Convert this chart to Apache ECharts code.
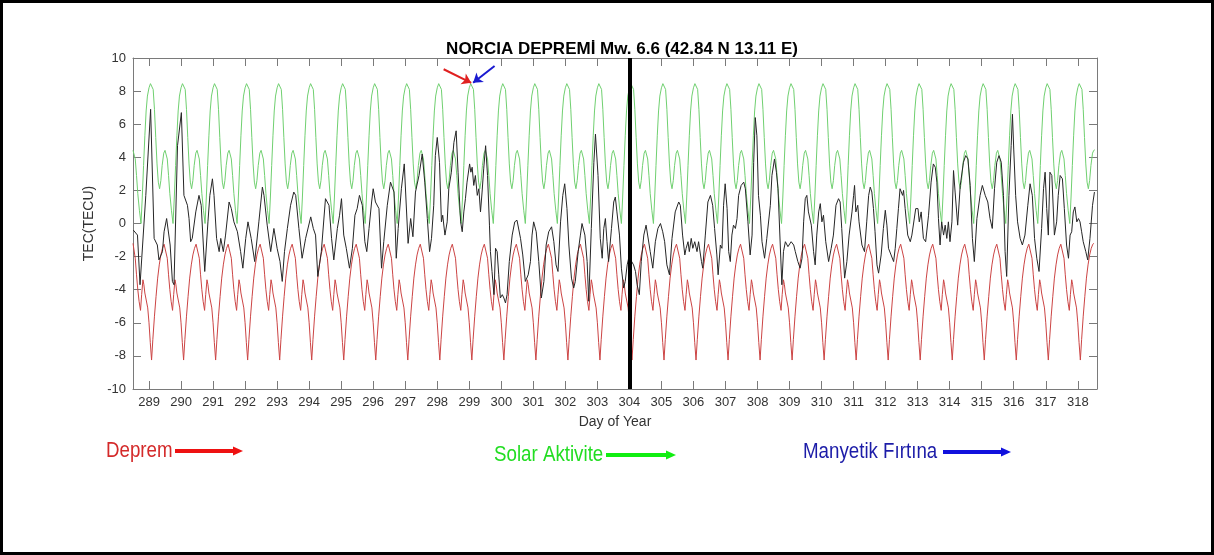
<!DOCTYPE html>
<html>
<head>
<meta charset="utf-8">
<title>NORCIA DEPREMİ Mw. 6.6</title>
<script src="https://cdn.jsdelivr.net/npm/echarts@6/dist/echarts.min.js"></script>
<style>
  html, body { margin: 0; padding: 0; background: #fff; }
  #chart { width: 1214px; height: 555px; }
</style>
</head>
<body>
<div id="chart"></div>
<script>
// Day-of-year ticks along the horizontal axis
const dayTicks = [289, 290, 291, 292, 293, 294, 295, 296, 297, 298, 299, 300, 301, 302, 303,
                  304, 305, 306, 307, 308, 309, 310, 311, 312, 313, 314, 315, 316, 317, 318];
const firstDay = 288;
const lastDay = 318;

// Upper bound (green): one day's shape [fraction of day, TECU]; the bound repeats every day
const upperDailyProfile = [
  [0.00, 8.2], [0.045, 8.45], [0.09, 8.5], [0.13, 8.1], [0.17, 6.9], [0.21, 5.2],
  [0.25, 3.6], [0.29, 2.5], [0.33, 2.1], [0.37, 2.6], [0.41, 3.5], [0.46, 4.25],
  [0.50, 4.42], [0.53, 4.45], [0.57, 3.9], [0.61, 2.9], [0.65, 1.8], [0.70, 0.8],
  [0.75, 0.0], [0.79, 1.6], [0.83, 3.5], [0.87, 5.3], [0.91, 6.8], [0.95, 7.7]
];

// Lower bound (red): one day's shape [fraction of day, TECU]
const lowerDailyProfile = [
  [0.00, -6.0], [0.04, -7.2], [0.08, -8.25], [0.12, -7.0], [0.17, -5.6], [0.22, -4.4],
  [0.27, -3.3], [0.32, -2.5], [0.37, -1.9], [0.42, -1.5], [0.47, -1.25], [0.50, -1.2],
  [0.53, -1.3], [0.57, -2.1], [0.61, -3.1], [0.65, -4.0], [0.69, -4.7], [0.735, -5.25],
  [0.77, -4.3], [0.81, -3.4], [0.84, -3.7], [0.87, -4.2], [0.89, -4.15], [0.92, -4.3],
  [0.96, -5.1]
];

// Observed TEC variation [day of year, TECU]
const tecObserved = [
  [288.51,-0.4],[288.64,-0.7],[288.72,-3.7],[288.90,1.7],[289.05,6.9],[289.16,-0.9],[289.26,-1.3],
  [289.31,-2.2],[289.42,-1.7],[289.47,-0.5],[289.55,0.3],[289.66,-1.3],[289.73,-3.5],[289.78,-3.7],
  [289.89,4.7],[290.01,6.7],[290.09,1.7],[290.20,1.1],[290.25,0.3],[290.30,-1.1],[290.35,-0.9],
  [290.46,0.7],[290.56,1.7],[290.63,1.1],[290.74,-2.9],[290.84,0.1],[290.90,1.7],[290.98,2.7],
  [291.03,1.7],[291.11,-0.9],[291.19,-1.7],[291.24,-0.9],[291.32,-1.7],[291.39,-0.7],[291.50,1.3],
  [291.57,0.9],[291.65,0.1],[291.76,-0.5],[291.86,-1.7],[291.93,-2.7],[292.02,-0.9],[292.09,0.1],
  [292.19,-0.9],[292.30,-2.3],[292.43,0.1],[292.54,2.2],[292.59,1.7],[292.69,-0.1],[292.80,-1.7],
  [292.90,-0.3],[293.00,-1.5],[293.09,-2.3],[293.16,-3.5],[293.23,-1.7],[293.32,-0.3],[293.42,1.1],
  [293.52,1.9],[293.58,1.7],[293.68,-0.3],[293.78,-2.1],[293.89,-0.9],[294.05,0.4],[294.13,-0.3],
  [294.20,-0.7],[294.27,-3.2],[294.38,-1.7],[294.51,1.5],[294.62,1.1],[294.70,-0.9],[294.77,-2.2],
  [294.88,-0.3],[294.95,0.5],[295.01,1.5],[295.08,-0.7],[295.16,-1.5],[295.26,-2.7],[295.35,-1.5],
  [295.43,0.5],[295.50,0.9],[295.57,1.7],[295.66,1.1],[295.74,-1.1],[295.80,-1.7],[295.87,-0.3],
  [295.95,1.3],[296.00,2.1],[296.07,1.3],[296.12,1.4],[296.18,0.9],[296.26,-2.7],[296.33,-1.1],
  [296.44,1.1],[296.54,2.5],[296.65,1.9],[296.72,-2.1],[296.78,-0.3],[296.88,2.1],[296.97,3.6],
  [297.01,3.5],[297.09,-1.2],[297.17,0.3],[297.24,-0.8],[297.32,1.9],[297.43,2.9],[297.53,4.2],
  [297.61,2.5],[297.69,0.3],[297.76,-1.7],[297.82,-0.9],[297.89,1.1],[297.94,4.1],[298.00,5.2],
  [298.07,3.7],[298.13,0.1],[298.17,0.5],[298.24,-0.7],[298.31,0.1],[298.36,2.1],[298.44,3.1],
  [298.52,4.9],[298.59,5.6],[298.65,3.1],[298.73,0.1],[298.78,-0.5],[298.83,0.7],[298.88,1.5],
  [298.93,2.5],[299.01,3.6],[299.05,3.1],[299.09,3.4],[299.14,2.3],[299.19,2.9],[299.25,1.7],
  [299.30,2.1],[299.35,0.7],[299.40,1.9],[299.45,3.3],[299.51,4.7],[299.57,2.9],[299.63,-0.1],
  [299.66,-1.7],[299.71,-2.9],[299.77,-4.3],[299.82,-1.5],[299.87,-1.7],[299.92,-3.1],[299.97,-4.5],
  [300.03,-4.3],[300.08,-4.5],[300.13,-4.8],[300.18,-4.3],[300.25,-2.3],[300.34,-0.7],[300.42,0.1],
  [300.49,0.2],[300.53,0.1],[300.60,-0.9],[300.67,-1.9],[300.75,-3.5],[300.84,-3.1],[300.91,-2.3],
  [300.96,-0.7],[301.01,0.1],[301.09,-0.5],[301.17,-2.3],[301.25,-4.5],[301.33,-3.5],[301.40,-1.3],
  [301.48,-0.5],[301.57,-0.2],[301.64,-1.1],[301.71,-2.5],[301.77,-2.9],[301.85,0.1],[301.92,1.7],
  [301.98,2.4],[302.05,0.9],[302.11,-1.3],[302.19,-3.3],[302.26,-3.9],[302.31,-3.5],[302.40,-1.7],
  [302.47,-0.7],[302.52,0.0],[302.61,-0.7],[302.68,-2.3],[302.73,-4.7],[302.81,-0.3],[302.89,3.7],
  [302.94,5.4],[303.02,2.9],[303.09,-0.9],[303.15,-2.1],[303.20,-0.3],[303.25,0.3],[303.30,-1.1],
  [303.35,-2.3],[303.44,-0.3],[303.51,1.3],[303.56,1.6],[303.61,0.7],[303.69,-0.7],[303.75,-2.7],
  [303.82,-3.9],[303.87,-3.5],[303.93,-2.5],[304.00,-1.9],[304.07,-2.3],[304.13,-2.5],[304.19,-2.9],
  [304.24,-3.7],[304.31,-4.3],[304.37,-2.3],[304.45,-0.7],[304.52,-0.1],[304.58,-0.2],[304.65,-1.7],
  [304.73,-2.7],[304.81,-1.1],[304.89,-0.3],[304.97,0.0],[305.04,-0.5],[305.10,-1.1],[305.17,-2.5],
  [305.25,-3.1],[305.33,-0.9],[305.43,0.7],[305.54,1.3],[305.59,1.1],[305.66,-0.7],[305.73,-1.9],
  [305.77,-1.5],[305.83,-1.1],[305.87,-1.7],[305.93,-0.9],[305.98,-1.5],[306.04,-1.1],[306.11,-1.7],
  [306.16,-1.1],[306.25,-2.3],[306.29,-2.7],[306.37,-0.7],[306.45,1.3],[306.53,1.7],[306.60,1.1],
  [306.66,-0.3],[306.73,-1.9],[306.77,-3.1],[306.84,-1.3],[306.89,-1.5],[306.94,1.1],[306.99,2.4],
  [307.05,0.9],[307.10,-1.7],[307.15,-2.3],[307.20,-0.7],[307.25,-0.1],[307.31,-0.3],[307.36,0.3],
  [307.41,1.7],[307.49,2.3],[307.57,2.5],[307.62,2.1],[307.70,0.1],[307.77,-1.9],[307.83,-0.7],
  [307.88,3.7],[307.93,6.4],[307.98,5.3],[308.03,1.7],[308.09,0.5],[308.14,-1.1],[308.22,-2.1],
  [308.29,-0.9],[308.40,1.1],[308.45,2.9],[308.53,3.9],[308.59,3.1],[308.64,2.1],[308.71,-1.3],
  [308.76,-3.7],[308.81,-1.7],[308.87,-1.1],[308.95,-1.4],[309.05,-1.1],[309.13,-1.3],[309.18,-1.7],
  [309.26,-2.3],[309.33,-2.7],[309.39,-2.1],[309.44,0.1],[309.49,1.5],[309.54,1.7],[309.59,0.7],
  [309.68,-0.1],[309.75,-1.7],[309.80,-2.5],[309.85,-0.7],[309.91,0.7],[309.96,1.2],[310.01,0.1],
  [310.06,0.5],[310.13,-1.1],[310.22,-2.3],[310.30,-1.5],[310.37,-0.7],[310.45,1.1],[310.53,1.5],
  [310.58,1.3],[310.63,-0.3],[310.72,-3.3],[310.79,-2.3],[310.86,-0.7],[310.95,0.7],[311.00,1.7],
  [311.03,2.3],[311.07,0.7],[311.13,1.1],[311.17,0.1],[311.26,-1.3],[311.34,-1.7],[311.41,0.1],
  [311.47,1.7],[311.52,2.2],[311.57,1.9],[311.62,0.9],[311.67,-0.5],[311.73,-2.5],[311.78,-3.0],
  [311.86,-1.9],[311.93,-0.3],[311.99,0.8],[312.04,-0.1],[312.09,-1.5],[312.17,-1.9],[312.25,-2.3],
  [312.30,-1.5],[312.35,-0.3],[312.40,0.9],[312.45,2.1],[312.53,1.7],[312.56,2.0],[312.61,0.9],
  [312.69,-0.7],[312.77,-1.1],[312.82,-0.7],[312.87,-0.7],[312.94,0.9],[313.01,0.9],[313.05,0.1],
  [313.11,0.7],[313.18,-0.9],[313.25,-1.1],[313.34,0.5],[313.42,2.5],[313.49,3.6],[313.55,3.4],
  [313.60,2.5],[313.65,0.3],[313.70,-1.3],[313.75,0.1],[313.81,-0.7],[313.86,-0.1],[313.91,-0.9],
  [313.96,0.1],[314.01,-1.1],[314.07,0.1],[314.12,3.2],[314.17,1.9],[314.25,-0.1],[314.33,2.3],
  [314.43,3.7],[314.50,4.1],[314.57,3.9],[314.64,2.3],[314.71,-0.9],[314.77,-2.3],[314.85,0.3],
  [314.95,1.7],[315.02,2.3],[315.11,1.7],[315.19,1.3],[315.26,0.3],[315.33,-0.3],[315.40,2.1],
  [315.47,3.7],[315.54,4.1],[315.61,3.7],[315.68,1.7],[315.73,-1.7],[315.78,-3.2],[315.85,1.7],
  [315.92,4.7],[315.96,6.6],[316.00,4.5],[316.06,1.7],[316.12,0.1],[316.20,-0.9],[316.27,-1.3],
  [316.35,-0.7],[316.44,1.1],[316.51,2.4],[316.58,1.7],[316.65,-0.9],[316.72,-2.1],[316.79,-2.9],
  [316.87,-0.3],[316.93,2.1],[316.98,3.1],[317.03,0.9],[317.08,-0.7],[317.13,3.1],[317.19,2.9],
  [317.27,-0.7],[317.34,0.1],[317.39,1.7],[317.45,2.9],[317.52,2.7],[317.58,0.9],[317.65,-1.3],
  [317.71,-2.1],[317.76,-0.7],[317.81,-0.5],[317.86,0.7],[317.91,1.0],[317.97,0.1],[318.02,0.3],
  [318.07,0.1],[318.12,-0.5],[318.17,-1.1],[318.25,-1.7],[318.31,-2.2],[318.38,-0.9],[318.46,1.1],
  [318.52,1.9]
];

// Event markers pointing at day 299: [tail, head] as [day, TECU]
const quakeArrow = [[298.2, 9.32], [299.06, 8.5]];
const stormArrow = [[299.79, 9.52], [299.12, 8.5]];
const eventDay = 304;

// Lay a daily profile out over every day of the plotted window
function spreadOverDays(profile, from, to) {
  const out = [];
  for (let d = firstDay; d <= lastDay; d++) {
    for (const [f, v] of profile) {
      const x = +(d + f).toFixed(3);
      if (x >= from - 1e-9 && x <= to + 1e-9) out.push([x, v]);
    }
  }
  return out;
}
const upperBound = spreadOverDays(upperDailyProfile, 288.5, 318.55);
const lowerBound = spreadOverDays(lowerDailyProfile, 288.5, 318.5);

const axisGray = '#7a7a7a';
const labelColor = '#333333';
const fontFamily = '"Liberation Sans", Arial, sans-serif';
const xMin = 288.5, xMax = 318.6;

const chart = echarts.init(document.getElementById('chart'), null, { renderer: 'canvas' });

function legendArrow(x0, x1, y, color) {
  return [
    { type: 'rect', shape: { x: x0, y: y - 2, width: x1 - x0 - 8, height: 4 }, style: { fill: color } },
    { type: 'polygon', shape: { points: [[x1 - 10, y - 4.5], [x1, y], [x1 - 10, y + 4.5]] }, style: { fill: color } }
  ];
}
const legendFont = '18px "Liberation Sans", Arial, sans-serif';
function legendText(text, x, yCenter, color) {
  return {
    type: 'text', x: x, y: yCenter, scaleX: 1.04, scaleY: 1.18,
    style: { text: text, font: legendFont, fill: color, verticalAlign: 'middle', align: 'left' }
  };
}

chart.setOption({
  animation: false,
  backgroundColor: '#ffffff',
  title: {
    text: 'NORCIA DEPREMİ Mw. 6.6 (42.84 N 13.11 E)',
    left: 617, top: 36, textAlign: 'center',
    textStyle: { fontSize: 17, fontWeight: 'bold', color: '#000', fontFamily: fontFamily }
  },
  grid: { left: 133, right: 117, top: 58, bottom: 166, containLabel: false },
  xAxis: [
    {
      type: 'value', min: xMin, max: xMax, position: 'bottom',
      name: 'Day of Year', nameLocation: 'middle', nameGap: 26,
      nameTextStyle: { fontSize: 14, color: labelColor, fontFamily: fontFamily },
      axisLine: { show: true, onZero: false, lineStyle: { color: axisGray, width: 1 } },
      axisTick: { show: true, inside: true, length: 8, customValues: dayTicks, lineStyle: { color: axisGray } },
      axisLabel: { show: true, customValues: dayTicks, fontSize: 13, color: labelColor, margin: 7, fontFamily: fontFamily },
      splitLine: { show: false }
    },
    {
      type: 'value', min: xMin, max: xMax, position: 'top',
      axisLine: { show: true, onZero: false, lineStyle: { color: axisGray, width: 1 } },
      axisTick: { show: true, inside: true, length: 8, customValues: dayTicks, lineStyle: { color: axisGray } },
      axisLabel: { show: false },
      splitLine: { show: false }
    }
  ],
  yAxis: [
    {
      type: 'value', min: -10, max: 10, interval: 2, position: 'left',
      name: 'TEC(TECU)', nameLocation: 'middle', nameGap: 29, nameRotate: 90,
      nameTextStyle: { fontSize: 14, color: labelColor, fontFamily: fontFamily },
      axisLine: { show: true, onZero: false, lineStyle: { color: axisGray, width: 1 } },
      axisTick: { show: true, inside: true, length: 8, lineStyle: { color: axisGray } },
      axisLabel: { fontSize: 13, color: labelColor, margin: 7, fontFamily: fontFamily },
      splitLine: { show: false }
    },
    {
      type: 'value', min: -10, max: 10, interval: 2, position: 'right',
      axisLine: { show: true, onZero: false, lineStyle: { color: axisGray, width: 1 } },
      axisTick: { show: true, inside: true, length: 8, lineStyle: { color: axisGray } },
      axisLabel: { show: false },
      splitLine: { show: false }
    }
  ],
  series: [
    {
      name: 'Üst sınır', type: 'line', data: upperBound, showSymbol: false, smooth: false,
      lineStyle: { color: '#70d070', width: 1 }, itemStyle: { color: '#70d070' }, z: 2,
      markLine: {
        silent: true, symbol: ['none', 'arrow'], symbolSize: 9, animation: false,
        label: { show: false },
        data: [
          [{ coord: quakeArrow[0], lineStyle: { color: '#e02020', width: 2, type: 'solid' }, itemStyle: { color: '#e02020' } },
           { coord: quakeArrow[1] }],
          [{ coord: stormArrow[0], lineStyle: { color: '#1a1ad0', width: 2, type: 'solid' }, itemStyle: { color: '#1a1ad0' } },
           { coord: stormArrow[1] }]
        ]
      }
    },
    {
      name: 'Alt sınır', type: 'line', data: lowerBound, showSymbol: false, smooth: false,
      lineStyle: { color: '#cc4444', width: 1 }, itemStyle: { color: '#cc4444' }, z: 2
    },
    {
      name: 'TEC', type: 'line', data: tecObserved, showSymbol: false, smooth: false,
      lineStyle: { color: '#262626', width: 1 }, itemStyle: { color: '#262626' }, z: 3,
      markLine: {
        silent: true, symbol: ['none', 'none'], animation: false,
        label: { show: false },
        lineStyle: { color: '#000', width: 4, type: 'solid' },
        data: [{ xAxis: eventDay }]
      }
    }
  ],
  graphic: [
    { type: 'rect', shape: { x: 1.5, y: 1.5, width: 1211, height: 552 }, style: { fill: 'none', stroke: '#000', lineWidth: 3 }, silent: true },
    legendText('Deprem', 106, 451, '#d42a2a'),
    ...legendArrow(175, 243, 451, '#ee1111'),
    legendText('Solar Aktivite', 494, 455, '#22dd22'),
    ...legendArrow(606, 676, 455, '#11ee11'),
    legendText('Manyetik Fırtına', 803, 452, '#1c1ca8'),
    ...legendArrow(943, 1011, 452, '#1111dd')
  ]
});
</script>
</body>
</html>
